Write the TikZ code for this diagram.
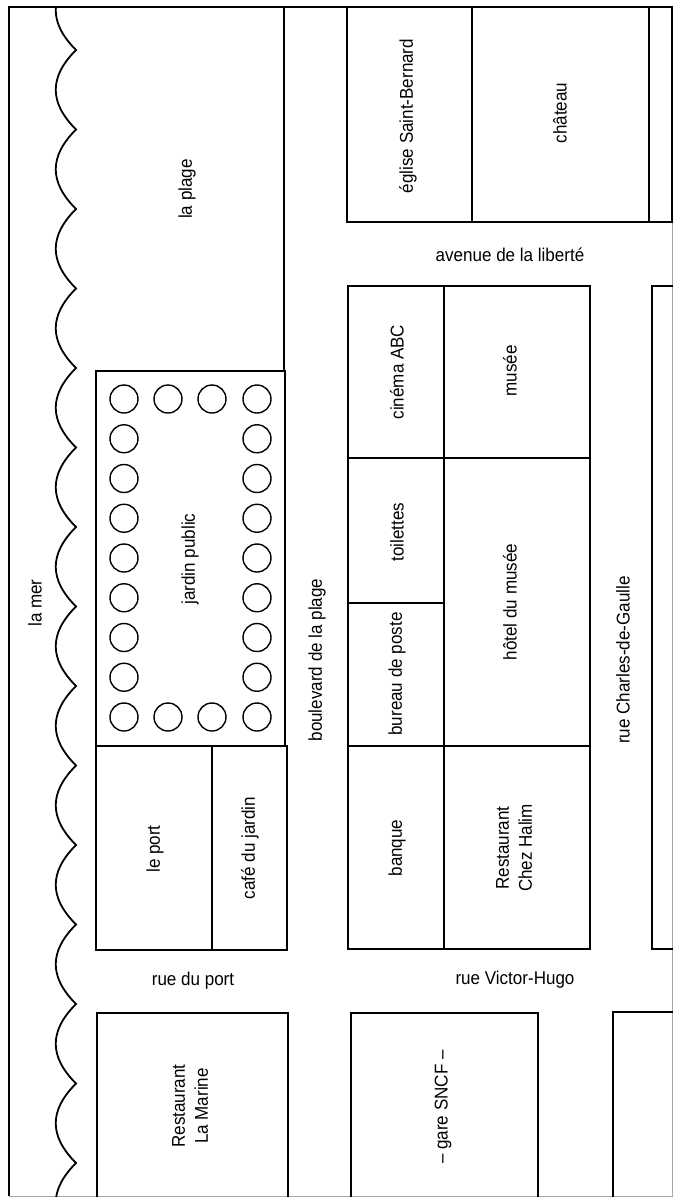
\documentclass[tikz,border=0pt]{standalone}
\usepackage{fontspec}
\setmainfont{Liberation Sans}[FakeStretch=0.92]
\usetikzlibrary{positioning}

\tikzset{
  wall/.style={line width=1.8pt},
  edge/.style={line width=0.8pt, black!35},
  maptext/.style={font=\fontsize{18.5}{23}\selectfont, align=center, inner sep=0pt},
  vmaptext/.style={maptext, rotate=90},
  tree/.style={circle, draw, line width=1.4pt, minimum size=28pt, inner sep=0pt},
}

\begin{document}
\begin{tikzpicture}[x=1pt, y=-1pt]
  \useasboundingbox (0,0) rectangle (673,1197);

  \draw[edge] (672,222) -- (672,1196) -- (9,1196);
  \draw[wall] (9,1196) -- (9,7) -- (673,7);

  \begin{scope}
    \clip (9,7) rectangle (100,1197);
    \draw[wall] (76,-29.5) foreach \k in {0,...,15} {
      .. controls (49,-2.5+79.5*\k) and (49,23+79.5*\k) .. (76,50+79.5*\k)};
  \end{scope}

  \draw[wall] (284,7) -- (284,371);
  \draw[wall] (96,371) rectangle (285,746);
  \draw[wall] (96,746) rectangle (287,950);
  \draw[wall] (212,746) -- (212,950);
  \draw[wall] (97,1197) -- (97,1013) -- (288,1013) -- (288,1197);

  \draw[wall] (347,7) -- (347,222) -- (673,222);
  \draw[wall] (472,7) -- (472,222);
  \draw[wall] (649,7) -- (649,222);
  \draw[wall] (672,7) -- (672,222);

  \draw[wall] (348,286) rectangle (590,949);
  \draw[wall] (444,286) -- (444,949);
  \draw[wall] (348,458) -- (590,458);
  \draw[wall] (348,603) -- (444,603);
  \draw[wall] (348,746) -- (590,746);
  \draw[wall] (673,286) -- (652,286) -- (652,949) -- (673,949);

  \draw[wall] (351,1197) -- (351,1013) -- (538,1013) -- (538,1197);
  \draw[wall] (613,1197) -- (613,1012) -- (673,1012);

  \foreach \r in {0,...,8} {
    \node[tree] (tl\r) at (124,399+39.75*\r) {};
    \node[tree] (tr\r) at (257,399+39.75*\r) {};
  }
  \node[tree] (tt1) at (168,399) {};
  \node[tree] (tt2) at (212,399) {};
  \node[tree] (tb1) at (168,717) {};
  \node[tree] (tb2) at (212,717) {};

  \node[vmaptext] (mer) at (35,603) {la mer};
  \node[vmaptext] (plage) at (187,189) {la plage};
  \node[vmaptext] (jardin) at (190,559) {jardin public};
  \node[vmaptext] (port) at (155,849) {le port};
  \node[vmaptext] (cafe) at (250,848) {café du jardin};
  \node[maptext] (rueport) at (193,981) {rue du port};
  \node[vmaptext] (marine) at (190,1106) {Restaurant\\La Marine};
  \node[vmaptext] (boulevard) at (317,660) {boulevard de la plage};

  \node[vmaptext] (eglise) at (408,116) {église Saint-Bernard};
  \node[vmaptext] (chateau) at (560,113) {château};
  \node[maptext] (avenue) at (510,255) {avenue de la liberté};
  \node[vmaptext] (cinema) at (397,372) {cinéma ABC};
  \node[vmaptext] (musee) at (510,371) {musée};
  \node[vmaptext] (toilettes) at (397,532) {toilettes};
  \node[vmaptext] (hotel) at (510,602) {hôtel du musée};
  \node[vmaptext] (poste) at (397,674) {bureau de poste};
  \node[vmaptext] (banque) at (397,848) {banque};
  \node[vmaptext] (halim) at (514,848) {Restaurant\\Chez Halim};
  \node[vmaptext] (gaulle) at (623,660) {rue Charles-de-Gaulle};
  \node[maptext] (hugo) at (515,980) {rue Victor-Hugo};
  \node[vmaptext] (gare) at (443,1107) {-- gare SNCF --};
\end{tikzpicture}
\end{document}
